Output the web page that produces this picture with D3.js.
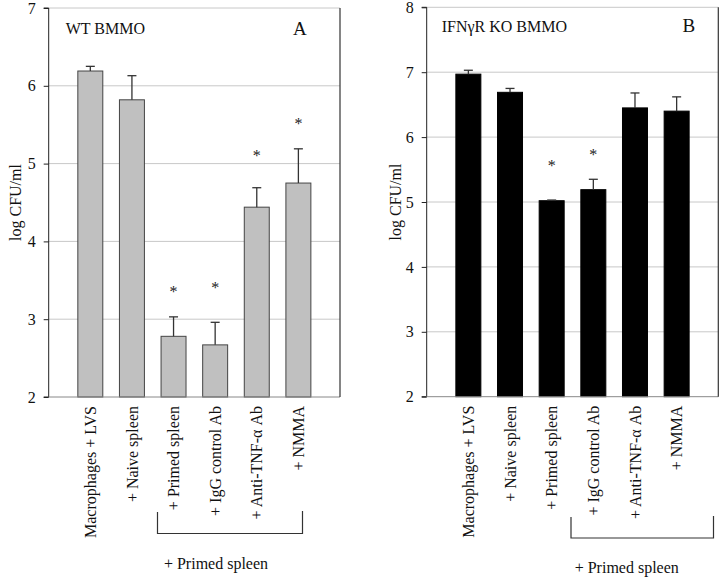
<!DOCTYPE html>
<html><head><meta charset="utf-8">
<script src="https://cdn.jsdelivr.net/npm/d3@7"></script>
<style>body{margin:0;background:#fff}svg{display:block}text{font-family:"Liberation Serif","Times New Roman",serif;fill:#111}</style>
</head><body><svg id="c" width="720" height="578"></svg>
<script>
const categories = ["Macrophages + LVS", "+ Naive spleen", "+ Primed spleen", "+ IgG control Ab", "+ Anti-TNF-\u03b1 Ab", "+ NMMA"];
const valuesA = [6.19, 5.82, 2.78, 2.67, 4.44, 4.75];
const errorsA = [0.06, 0.31, 0.25, 0.29, 0.25, 0.44];
const starsA  = [null, null, 3.38, 3.43, 5.12, 5.54];
const valuesB = [6.97, 6.69, 5.02, 5.19, 6.45, 6.40];
const errorsB = [0.06, 0.06, 0.01, 0.16, 0.23, 0.22];
const starsB  = [null, null, 5.58, 5.76, null, null];
const ticksA = [2, 3, 4, 5, 6, 7];
const ticksB = [2, 3, 4, 5, 6, 7, 8];
const yLabel = "log CFU/ml";
const bracketLabel = "+ Primed spleen";

const svg = d3.select("#c");

function panel(o) {
  const g = svg.append("g");
  const x = d3.scaleBand().domain(categories).range([o.x0, o.x1]).paddingInner(0.4).paddingOuter(0.7);
  const y = d3.scaleLinear().domain([2, o.ymax]).range([o.yb, o.yt]);
  g.selectAll("line.grid").data(o.ticks.filter(t => t > 2)).join("line")
    .attr("x1", o.x0).attr("x2", o.x1).attr("y1", d => y(d)).attr("y2", d => y(d))
    .attr("stroke", "#c8c8c8").attr("stroke-width", 1);
  g.selectAll("rect.bar").data(o.values).join("rect")
    .attr("x", (d, i) => x(categories[i])).attr("width", x.bandwidth())
    .attr("y", d => y(d)).attr("height", d => y(2) - y(d))
    .attr("fill", o.fill).attr("stroke", o.stroke).attr("stroke-width", 1);
  const eg = g.selectAll("g.err").data(o.values).join("g");
  eg.append("line")
    .attr("x1", (d, i) => x(categories[i]) + x.bandwidth() / 2)
    .attr("x2", (d, i) => x(categories[i]) + x.bandwidth() / 2)
    .attr("y1", d => y(d)).attr("y2", (d, i) => y(d + o.errors[i]))
    .attr("stroke", "#333").attr("stroke-width", 1.3);
  eg.append("line")
    .attr("x1", (d, i) => x(categories[i]) + x.bandwidth() / 2 - 4.5)
    .attr("x2", (d, i) => x(categories[i]) + x.bandwidth() / 2 + 4.5)
    .attr("y1", (d, i) => y(d + o.errors[i])).attr("y2", (d, i) => y(d + o.errors[i]))
    .attr("stroke", "#333").attr("stroke-width", 1.3);
  g.selectAll("text.star").data(o.stars.map((s, i) => ({s, i})).filter(d => d.s != null)).join("text")
    .attr("x", d => x(categories[d.i]) + x.bandwidth() / 2)
    .attr("y", d => y(d.s) + 7)
    .attr("text-anchor", "middle").attr("font-size", 16).style("fill", "#222").text("*");
  const ax = g.append("g").attr("transform", `translate(${o.x0},0)`)
    .call(d3.axisLeft(y).tickValues(o.ticks).tickFormat(d3.format("d")).tickSize(5).tickPadding(8));
  ax.attr("font-family", null);
  ax.select(".domain").attr("stroke", "#222").attr("d", `M-5,${o.yt}H0V${o.yb}H-5`);
  ax.selectAll(".tick line").attr("stroke", "#222");
  ax.selectAll(".tick text").attr("font-size", 16).style("fill", "#111");
  g.append("line").attr("x1", o.x0).attr("x2", o.x1).attr("y1", o.yb).attr("y2", o.yb).attr("stroke", "#888");
  g.append("line").attr("x1", o.x1).attr("x2", o.x1).attr("y1", o.yt).attr("y2", o.yb).attr("stroke", "#333").attr("stroke-width", 1.2);
  g.append("text").attr("transform", `translate(${o.ylx},${(o.yt + o.yb) / 2}) rotate(-90)`)
    .attr("text-anchor", "middle").attr("dy", "0.35em").attr("font-size", 16).text(yLabel);
  g.selectAll("text.xl").data(categories).join("text")
    .attr("transform", d => `translate(${x(d) + x.bandwidth() / 2},${o.yb + 9}) rotate(-90)`)
    .attr("text-anchor", "end").attr("dy", "0.35em").attr("font-size", 16).text(d => d);
  g.append("text").attr("x", o.titleX).attr("y", o.titleY).attr("font-size", 16).text(o.title);
  g.append("text").attr("x", o.letterX).attr("y", o.letterY).attr("font-size", 19).text(o.letter);
  g.append("path").attr("d", `M${o.br[0]},${o.br[2]}V${o.br[3]}H${o.br[1]}V${o.br[2] - 1}`)
    .attr("fill", "none").attr("stroke", "#333").attr("stroke-width", 1.2);
  g.append("text").attr("x", (o.br[0] + o.br[1]) / 2 + o.brTextDx).attr("y", o.brTextY)
    .attr("text-anchor", "middle").attr("font-size", 16).text(bracketLabel);
}

panel({x0: 48.7, x1: 340, yt: 8, yb: 397, ymax: 7, ticks: ticksA, values: valuesA, errors: errorsA, stars: starsA,
  fill: "#c0c0c0", stroke: "#444", ylx: 15, title: "WT BMMO", titleX: 65.7, titleY: 34.3, letter: "A", letterX: 293, letterY: 34.5,
  br: [157.5, 302.5, 512, 533.5], brTextY: 569, brTextDx: -14});
panel({x0: 426.7, x1: 718.3, yt: 7.3, yb: 396.7, ymax: 8, ticks: ticksB, values: valuesB, errors: errorsB, stars: starsB,
  fill: "#000", stroke: "#000", ylx: 395, title: "IFN\u03b3R KO BMMO", titleX: 441.7, titleY: 31.7, letter: "B", letterX: 682.5, letterY: 32.3,
  br: [571, 713.5, 517, 538], brTextY: 573, brTextDx: -15.5});
</script></body></html>
